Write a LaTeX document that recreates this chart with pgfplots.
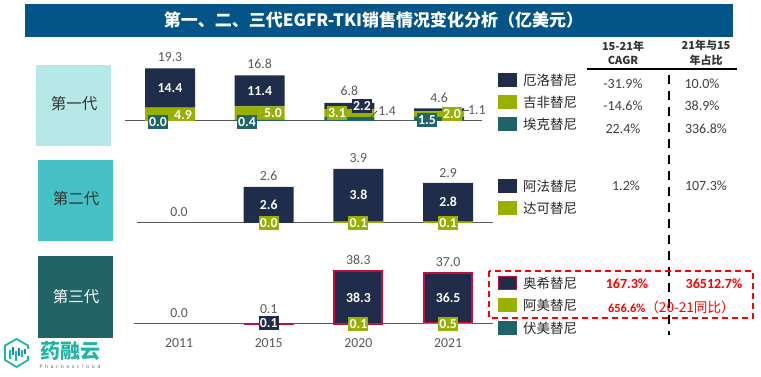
\documentclass[border=0pt]{standalone}
\usepackage{pgfplots}
\usepackage{pgfplotstable}
\usepackage{fontspec}
\pgfplotsset{compat=1.18}
\setmainfont{Carlito}
\newfontfamily\cjk{Noto Sans CJK SC}
\definecolor{navy}{HTML}{1F2C4A}
\definecolor{lime}{HTML}{98B000}
\definecolor{teal2}{HTML}{206467}
\definecolor{crim}{HTML}{C00F3C}
\definecolor{titleblue}{HTML}{025586}
\definecolor{lbl}{HTML}{595959}
\definecolor{logo}{HTML}{1FB5A6}
\definecolor{gena}{HTML}{B7E8E8}
\definecolor{genb}{HTML}{45C1C5}
\definecolor{txt}{HTML}{404040}
\newcommand{\fs}[1]{\fontsize{#1}{#1}\selectfont}
\pgfplotsset{
  panelbase/.style={scale only axis,clip=false,enlargelimits=false,anchor=south west},
  panel/.style={panelbase,axis x line=bottom,axis y line=none,
    axis line style={draw=lbl,line width=1pt,-},
    ytick=\empty,xtick=\empty,ybar stacked,bar width=50pt},
  overlay/.style={panelbase,hide axis},
  lab/.style={only marks,mark=none,forget plot,nodes near coords,point meta=explicit symbolic,
    every node near coord/.append style={anchor=center,font=\fs{13.8},text=lbl,inner sep=0pt}},
  wlab/.style={lab,every node near coord/.append style={anchor=center,font=\fs{13.8}\bfseries,text=white,inner sep=0pt}},
  blab/.style={lab,every node near coord/.append style={anchor=center,font=\fs{13.8}\bfseries,text=white,fill=#1,
     minimum width=20pt,minimum height=14pt,inner sep=0pt}},
}
\begin{document}
\begin{tikzpicture}[x=1pt,y=1pt]
\path[use as bounding box] (0,0) rectangle (761,377);
\begin{scope}[x=1pt,y=-1pt,yshift=377pt]
\fill[titleblue] (25,4) rectangle (733,37);
\node[text=white,font=\cjk\fs{17}\bfseries,inner sep=0pt] at (373.5,20.5) {第一、二、三代EGFR-TKI销售情况变化分析（亿美元）};
\fill[gena] (36,65) rectangle (111,146);
\fill[genb] (38,160) rectangle (113,241);
\fill[teal2] (38,256) rectangle (113,338);
\node[font=\cjk\fs{15.5},text=black!80] at (74,104) {第一代};
\node[font=\cjk\fs{15.5},text=black!80] at (76,199) {第二代};
\node[font=\cjk\fs{15.5},text=white] at (76,297) {第三代};
% legend swatches and names
\foreach \yy/\cc/\tt in {73/navy/厄洛替尼,95/lime/吉非替尼,117/teal2/埃克替尼,179/navy/阿法替尼,201/lime/达可替尼,298/lime/阿美替尼,321/teal2/伏美替尼}{
  \fill[\cc] (498,\yy) rectangle +(19,14);
  \node[anchor=west,font=\cjk\fs{13.5},text=black!85,inner sep=0pt] at (523,\yy+7) {\tt};
}
\fill[navy,draw=crim,line width=1.5pt] (498.7,276.7) rectangle (516.3,289.3);
\node[anchor=west,font=\cjk\fs{13.5},text=black!85,inner sep=0pt] at (523,283.5) {奥希替尼};
% table header
\node[font=\cjk\fs{11}\bfseries,text=black!80,inner sep=0pt] at (623,46) {15-21年};
\node[font=\cjk\fs{11}\bfseries,text=black!80,inner sep=0pt] at (623,60) {CAGR};
\node[font=\cjk\fs{11}\bfseries,text=black!80,inner sep=0pt] at (706,45) {21年与15};
\node[font=\cjk\fs{11}\bfseries,text=black!80,inner sep=0pt] at (706,60) {年占比};
\draw[black,line width=1.3pt] (587,69) -- (737,69);
\draw[black,line width=1.8pt,dash pattern=on 9pt off 7pt] (669,75) -- (669,335);
% table values
\foreach \xx/\yy/\tt in {623/84/-31.9\%,702/84/10.0\%,623/106/-14.6\%,702/106/38.9\%,623/129/22.4\%,706/129/336.8\%,626/186/1.2\%,706/186/107.3\%}{
  \node[font=\fs{14},text=txt,inner sep=0pt] at (\xx,\yy) {\tt};
}
\node[font=\fs{14}\bfseries,text=red,inner sep=0pt] at (627,284) {167.3\%};
\node[font=\fs{14}\bfseries,text=red,inner sep=0pt] at (714,284) {36512.7\%};
\node[anchor=west,font=\fs{12.3}\bfseries,text=red,inner sep=0pt] at (608,307) {656.6\%{\cjk\mdseries\fs{13.6}（20-21同比）}};
\draw[red,line width=1.5pt,dash pattern=on 6pt off 4pt] (489,271) rectangle (753,318);
% logo
\draw[logo,line width=1.8pt,line join=round] (16.5,339) -- (28,345.5) -- (28,360) -- (16.5,367) -- (5,360) -- (5,345.5) -- cycle;
\fill[white] (25,349) rectangle (30,356);
\foreach \xx/\ya/\yb/\cc in {10/350/359/logo,13/347/355/cyan!70!blue,16/351/361/logo,19/348/356/cyan!70!blue,22/350/357/logo,25/349/354/cyan!70!blue}{
  \draw[\cc,line width=1.4pt] (\xx,\ya) -- (\xx,\yb);
}
\node[font=\cjk\fs{20}\bfseries,text=logo,inner sep=0pt] at (70,351) {药融云};
\node[inner sep=0pt,font=\fs{5.5},text=black!60] at (70,367) {\makebox[61pt][s]{P\hfill h\hfill a\hfill r\hfill n\hfill e\hfill x\hfill c\hfill l\hfill o\hfill u\hfill d}};
\end{scope}
%--------- first generation
\begin{axis}[panel,at={(125pt,256pt)},width=357pt,height=59.84pt,xmin=-0.5017,xmax=3.478,ymin=0,ymax=22]
\addplot[fill=teal2,draw=none] coordinates {(0,0.0)(1,0.4)(2,1.4)(3,1.5)};
\addplot[fill=lime,draw=none] coordinates {(0,4.9)(1,5.0)(2,3.1)(3,2.0)};
\addplot[fill=navy,draw=none] coordinates {(0,14.4)(1,11.4)(2,2.2)(3,1.1)};
\end{axis}
\begin{axis}[overlay,at={(125pt,256pt)},width=357pt,height=59.84pt,xmin=-0.5017,xmax=3.478,ymin=0,ymax=22]
\addplot[lab] table[meta=l] {
x y l
0 23.5 19.3
1 21.0 16.8
2 11.0 6.8
3 8.5 4.6
2.42 3.7 1.4
3.42 4.0 1.1
};
\addplot[wlab] table[meta=l] {
x y l
0 12.1 14.4
1 11.0 11.4
0.144 2.2 4.9
1.148 2.9 5.0
};
\addplot[blab=teal2] table[meta=l] {
x y l
-0.133 -0.4 0.0
0.858 -0.4 0.4
2.865 0.4 1.5
};
\addplot[blab=lime] table[meta=l] {
x y l
1.862 2.94 3.1
3.144 2.57 2.0
};
\addplot[blab=navy] table[meta=l] {
x y l
2.14 5.5 2.2
};
\end{axis}
\begin{scope}[x=1pt,y=-1pt,yshift=377pt]
\draw[lbl,line width=.8pt] (370,118) -- (377,111);
\draw[lbl,line width=.8pt] (463,110) -- (469,110);
\end{scope}
%--------- second generation
\begin{axis}[panel,at={(137pt,154pt)},width=356pt,height=55.4pt,xmin=-0.468,xmax=3.5,ymin=0,ymax=4]
\addplot[fill=lime,draw=none] coordinates {(0,0)(1,0.0)(2,0.1)(3,0.1)};
\addplot[fill=navy,draw=none] coordinates {(0,0)(1,2.6)(2,3.8)(3,2.8)};
\end{axis}
\begin{axis}[overlay,at={(137pt,154pt)},width=356pt,height=55.4pt,xmin=-0.468,xmax=3.5,ymin=0,ymax=4]
\addplot[lab] table[meta=l] {
x y l
0 0.79 0.0
1 3.39 2.6
2 4.69 3.9
3 3.61 2.9
};
\addplot[wlab] table[meta=l] {
x y l
1 1.3 2.6
2 2.02 3.8
3 1.52 2.8
};
\addplot[blab=lime] table[meta=l] {
x y l
1 0 0.0
2 0 0.1
3 0 0.1
};
\end{axis}
%--------- third generation
\begin{axis}[panel,at={(134pt,53pt)},width=359pt,height=55.2pt,xmin=-0.502,xmax=3.5,ymin=0,ymax=40,
  xtick={0,1,2,3},xticklabels={2011,2015,2020,2021},major tick length=0pt,
  xticklabel style={font=\fs{13.8},text=lbl,inner sep=0pt,yshift=-14pt}]
\addplot[fill=lime,draw=none] coordinates {(1,0.0)(2,0.1)(3,0.5)};
\addplot[fill=navy,draw=crim,line width=2pt,bar width=48pt] coordinates {(1,0.1)(2,38.3)(3,36.5)};
\end{axis}
\begin{axis}[overlay,at={(134pt,53pt)},width=359pt,height=55.2pt,xmin=-0.502,xmax=3.5,ymin=0,ymax=40]
\addplot[lab] table[meta=l] {
x y l
0 8 0.0
1 10.9 0.1
2 46.4 38.3
3 44.9 37.0
};
\addplot[wlab] table[meta=l] {
x y l
2 18.8 38.3
3 18.8 36.5
};
\addplot[blab=lime] table[meta=l] {
x y l
2 0 0.1
3 0 0.5
};
\addplot[blab=navy] table[meta=l] {
x y l
1 0.7 0.1
};
\end{axis}
\end{tikzpicture}
\end{document}
